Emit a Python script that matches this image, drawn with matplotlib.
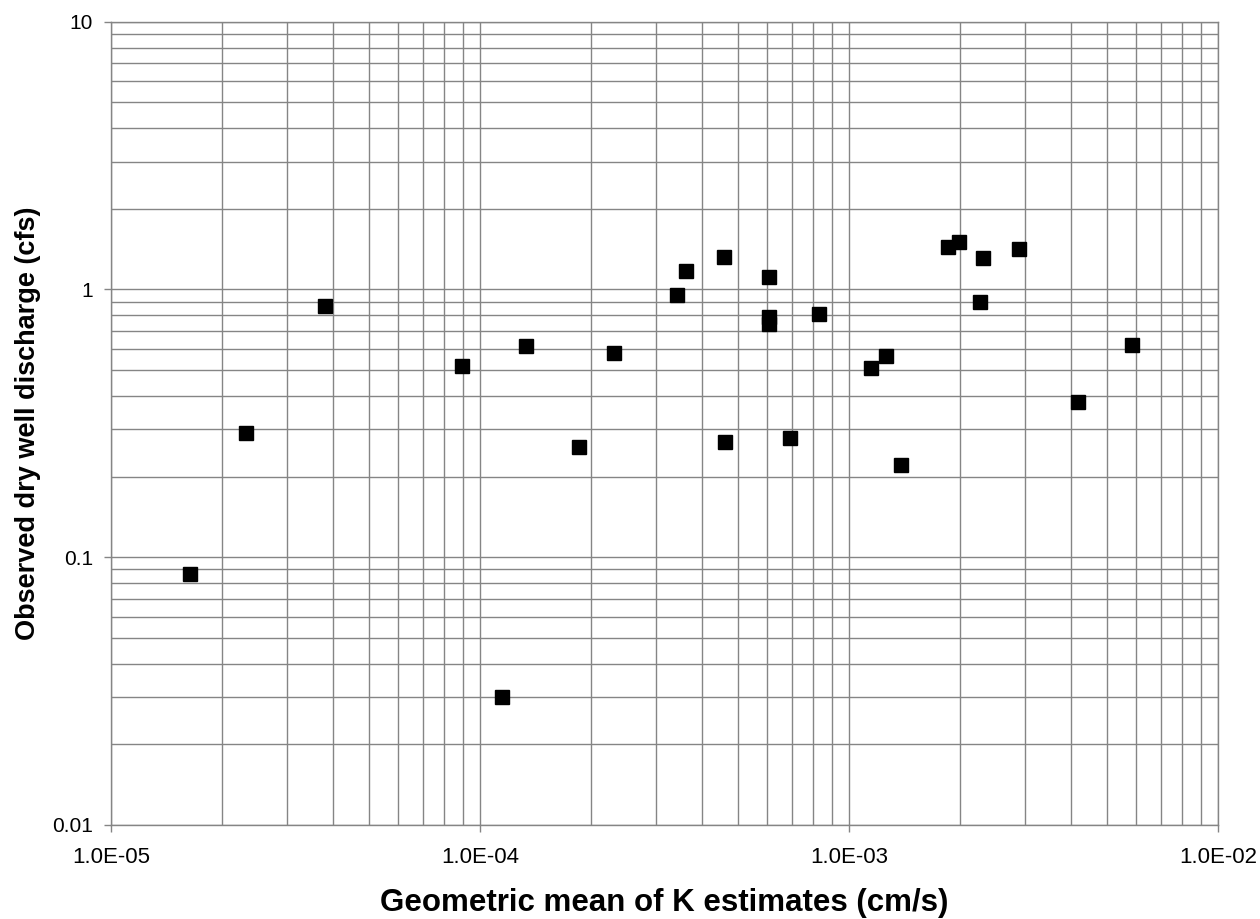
import matplotlib.pyplot as plt
from matplotlib.ticker import LogLocator, FixedLocator, NullFormatter

plt.rcParams['font.family'] = ['Liberation Sans', 'DejaVu Sans']

# geometric mean of K (cm/s) and observed discharge (cfs)
k_mean = [1.64e-5, 2.32e-5, 3.80e-5, 8.92e-5, 1.147e-4, 1.335e-4, 1.851e-4,
          2.31e-4, 3.41e-4, 3.61e-4, 4.58e-4, 4.62e-4, 6.06e-4, 6.06e-4,
          6.06e-4, 6.93e-4, 8.31e-4, 1.145e-3, 1.257e-3, 1.386e-3, 1.858e-3,
          1.99e-3, 2.27e-3, 2.307e-3, 2.893e-3, 4.17e-3, 5.85e-3]
discharge = [0.0862, 0.290, 0.868, 0.516, 0.030, 0.616, 0.259,
             0.577, 0.950, 1.17, 1.317, 0.270, 1.11, 0.791,
             0.745, 0.279, 0.811, 0.507, 0.565, 0.2207, 1.443,
             1.502, 0.899, 1.306, 1.418, 0.379, 0.619]

x_ticks = [1e-5, 1e-4, 1e-3, 1e-2]
x_labels = ['1.0E-05', '1.0E-04', '1.0E-03', '1.0E-02']
y_ticks = [0.01, 0.1, 1, 10]
y_labels = ['0.01', '0.1', '1', '10']

fig = plt.figure(figsize=(12.6, 9.19), dpi=100)
ax = fig.add_axes([0.0881, 0.1023, 0.8786, 0.8741])

ax.set_xscale('log')
ax.set_yscale('log')
ax.set_xlim(1e-5, 1e-2)
ax.set_ylim(0.01, 10)

grid_col = '#858585'
ax.grid(True, which='both', color=grid_col, linewidth=1.0)
ax.set_axisbelow(True)

ax.plot(k_mean, discharge, linestyle='none', marker='s', markersize=10,
        color='black', zorder=3)

ax.xaxis.set_major_locator(FixedLocator(x_ticks))
ax.set_xticklabels(x_labels)
ax.yaxis.set_major_locator(FixedLocator(y_ticks))
ax.set_yticklabels(y_labels)
ax.xaxis.set_minor_locator(LogLocator(base=10, subs=range(2, 10)))
ax.yaxis.set_minor_locator(LogLocator(base=10, subs=range(2, 10)))
ax.xaxis.set_minor_formatter(NullFormatter())
ax.yaxis.set_minor_formatter(NullFormatter())

ax.tick_params(which='major', direction='out', length=5, width=1,
               color=grid_col)
ax.tick_params(axis='x', which='major', labelsize=16, pad=11)
ax.tick_params(axis='y', which='major', labelsize=15, pad=8)
ax.tick_params(which='minor', length=0)

for s in ax.spines.values():
    s.set_color(grid_col)
    s.set_linewidth(1.0)

ax.set_xlabel('Geometric mean of K estimates (cm/s)', fontsize=22.5,
              fontweight='bold', labelpad=14)
ax.set_ylabel('Observed dry well discharge (cfs)', fontsize=19.5,
              fontweight='bold', labelpad=8)

fig.savefig('out.png', dpi=100)
